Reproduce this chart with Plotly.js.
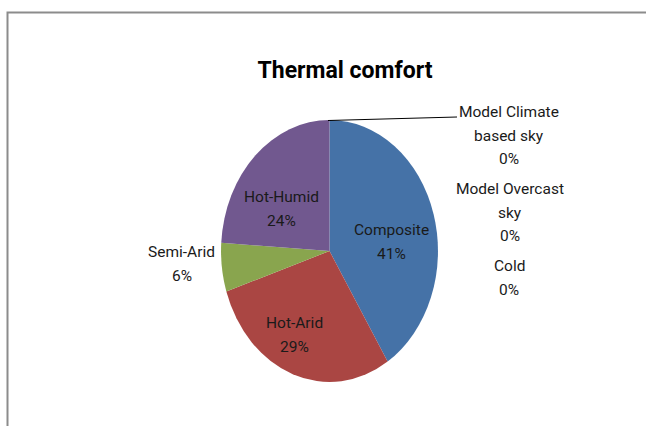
<!DOCTYPE html>
<html><head><meta charset="utf-8">
<script src="https://cdn.plot.ly/plotly-3.0.1.min.js"></script>
<style>
html,body{margin:0;padding:0;background:#fff}
#wrap{position:relative;width:646px;height:426px;overflow:hidden}
#pie,#labels{position:absolute;left:0;top:0;width:646px;height:426px}
#pie{transform-origin:329.5px 251px;transform:scaleX(0.828)}
</style>
</head><body>
<div id="wrap"><div id="pie"></div><div id="labels"></div></div>
<script>
var categories = ["Composite", "Hot-Arid", "Semi-Arid", "Hot-Humid", "Model Climate based sky", "Model Overcast sky", "Cold"];
var values = [41, 29, 6, 24, 0, 0, 0];
var colors = ["#4572A7", "#AA4643", "#89A54E", "#71588F", "#4198AF", "#DB843D", "#93A9CF"];
var labelLines = [["Composite"], ["Hot-Arid"], ["Semi-Arid"], ["Hot-Humid"], ["Model Climate", "based sky"], ["Model Overcast", "sky"], ["Cold"]];

var total = values.reduce(function(a,b){return a+b;},0);
function pct(i){ return Math.round(values[i]/total*100) + "%"; }

var W = 646, H = 426;
var FONT = "Roboto, 'Liberation Sans', sans-serif";
var cx = 329.5, cy = 251, r = 131;

// label layout: x centre and y of first line (pixels), line spacing
var labelPos = [[391,230],[294,323],[182,252],[281,197],[509,112],[510,189],[509,266]];
var LS = 23.5;

var annotations = [];
labelPos.forEach(function(p,i){
  var lines = labelLines[i].concat([pct(i)]);
  lines.forEach(function(t,k){
    annotations.push({xref:"paper", yref:"paper", x:p[0]/W, y:1-(p[1]+k*LS)/H,
      xanchor:"center", yanchor:"middle", showarrow:false, text:t,
      font:{family:FONT, size:15.5, color:"#1a1a1a"}});
  });
});

var pieTrace = {
  type:"pie", labels:categories, values:values, sort:false, direction:"clockwise", rotation:0,
  marker:{colors:colors, line:{width:0}}, textinfo:"none", hoverinfo:"label+percent", showlegend:false,
  domain:{x:[(cx-r)/W,(cx+r)/W], y:[1-(cy+r)/H, 1-(cy-r)/H]}
};

Plotly.newPlot("pie", [pieTrace], {
  width:W, height:H, margin:{l:0,r:0,t:0,b:0}, paper_bgcolor:"#fff", showlegend:false
}, {displayModeBar:false, staticPlot:true});

Plotly.newPlot("labels", [], {
  width:W, height:H, margin:{l:0,r:0,t:0,b:0}, paper_bgcolor:"rgba(0,0,0,0)", plot_bgcolor:"rgba(0,0,0,0)",
  showlegend:false, xaxis:{visible:false}, yaxis:{visible:false},
  title:{text:"<b>Thermal comfort</b>", x:345/W, xanchor:"center", y:1-70/H, yanchor:"middle",
    font:{family:FONT, size:23, color:"#000"}},
  annotations: annotations,
  shapes:[
    {type:"rect", xref:"paper", yref:"paper", x0:7.5/W, y0:-0.1, x1:1.1, y1:1-12.5/H,
      line:{color:"#8c8c8c", width:2}, fillcolor:"rgba(0,0,0,0)"},
    {type:"line", xref:"paper", yref:"paper", x0:328/W, y0:1-120.5/H, x1:457/W, y1:1-117/H,
      line:{color:"#000", width:1}}
  ]
}, {displayModeBar:false, staticPlot:true});
</script>
</body></html>
